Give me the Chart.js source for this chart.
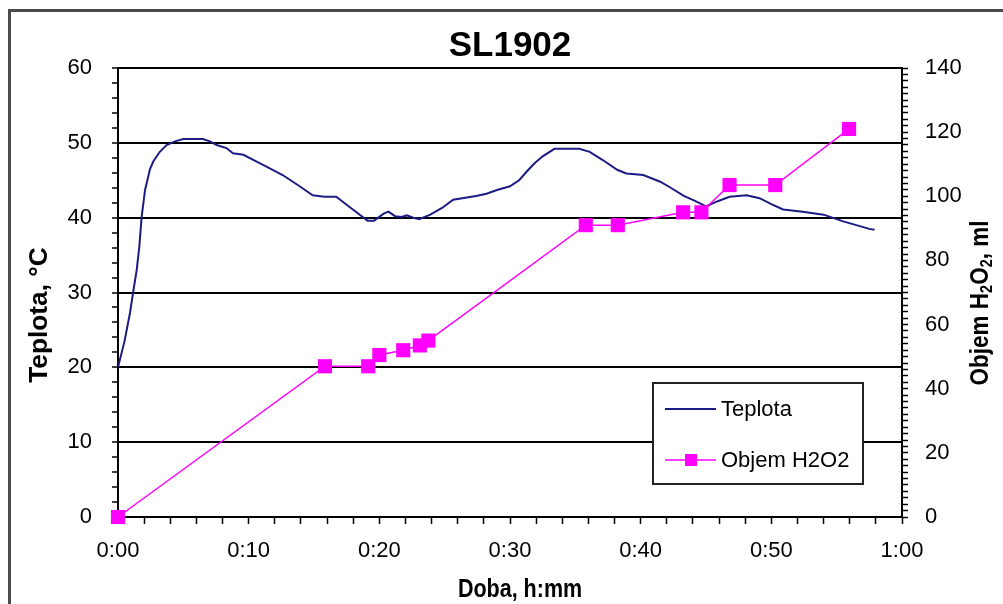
<!DOCTYPE html>
<html>
<head>
<meta charset="utf-8">
<title>SL1902</title>
<script src="https://cdn.jsdelivr.net/npm/chart.js@4/dist/chart.umd.min.js"></script>
<style>
  html, body { margin: 0; padding: 0; background: #fff; }
  #chart { display: block; }
</style>
</head>
<body>
<canvas id="chart" width="1003" height="604"></canvas>
<script>
// Teplota (temperature log), time in minutes
var tempMinutes = [0, 0.5, 0.92, 1.2, 1.43, 1.63, 1.81, 2.07, 2.45, 2.7, 3.2, 3.72, 4.36, 5.0, 6.5, 7.04,
    7.55, 8.3, 8.8, 9.6, 10.5, 11.4, 12.6, 13.9, 14.9, 15.8, 16.7, 17.6, 18.5, 19.1, 19.6, 20.3, 20.7,
    21.2, 21.7, 22.1, 22.6, 23.05, 23.9, 24.8, 25.65, 26.7, 27.4, 28.2, 29.0, 30.0, 30.7, 31.3, 31.9,
    32.5, 33.4, 35.3, 36.1, 37.1, 38.2, 38.9, 40.2, 41.5, 42.3, 43.3, 44.2, 45.0, 45.9, 46.8, 48.1,
    49.1, 50.0, 50.9, 52.4, 54.0, 55.5, 56.5, 57.5, 57.9];
var tempC = [20.0, 23.5, 27.3, 30.5, 33.0, 36.1, 40.1, 43.7, 46.5, 47.5, 48.8, 49.7, 50.2, 50.5, 50.5, 50.2,
    49.7, 49.3, 48.6, 48.4, 47.6, 46.8, 45.7, 44.2, 43.0, 42.8, 42.8, 41.6, 40.4, 39.6, 39.6, 40.5, 40.8,
    40.2, 40.1, 40.3, 40.0, 39.8, 40.4, 41.3, 42.4, 42.7, 42.9, 43.2, 43.7, 44.2, 45.0, 46.2, 47.3,
    48.2, 49.2, 49.2, 48.8, 47.7, 46.4, 45.9, 45.7, 44.8, 44.0, 42.9, 42.2, 41.5, 42.2, 42.8, 43.0,
    42.6, 41.8, 41.1, 40.8, 40.4, 39.5, 39.0, 38.5, 38.4];

// Objem H2O2 (dosed volume, ml)
var volMinutes = [0, 15.84, 19.15, 20.0, 21.83, 23.1, 23.75, 35.8, 38.25, 43.25, 44.65, 46.8, 50.3, 55.95];
var volMl = [0, 47, 47, 50.5, 52, 53.5, 55, 91, 91, 95, 95, 103.5, 103.5, 121];

var chartTitle = 'SL1902';
var seriesNames = ['Teplota', 'Objem H2O2'];
var xTitle = 'Doba, h:mm';
var yTitle = 'Teplota, °C';

var fontFamily = '"Liberation Sans", Arial, sans-serif';
var navy = '#1c1c84';
var magenta = '#ff00ff';

function toPoints(xs, ys) {
    return xs.map(function(x, i) { return { x: x, y: ys[i] }; });
}

function hhmm(minutes) {
    var h = Math.floor(minutes / 60);
    var m = Math.round(minutes % 60);
    return h + ':' + (m < 10 ? '0' + m : m);
}

// draws a run of [text, isSubscript] pieces centred on the origin, squeezed along the text
function drawRuns(ctx, parts, squeeze) {
    var bigFont = 'bold 25px ' + fontFamily;
    var subFont = 'bold 16px ' + fontFamily;
    var total = 0;
    parts.forEach(function(p) {
        ctx.font = p[1] ? subFont : bigFont;
        total += ctx.measureText(p[0]).width;
    });
    ctx.scale(squeeze, 1);
    ctx.textAlign = 'left';
    ctx.textBaseline = 'alphabetic';
    var px = -total / 2;
    parts.forEach(function(p) {
        ctx.font = p[1] ? subFont : bigFont;
        ctx.fillText(p[0], px, p[1] ? 13 : 9);
        px += ctx.measureText(p[0]).width;
    });
}

// white sheet, cell frame, axis titles and the boxed legend
var sheetDecor = {
    id: 'sheetDecor',
    beforeDraw: function(chart) {
        var ctx = chart.ctx;
        ctx.save();
        ctx.fillStyle = '#fff';
        ctx.fillRect(0, 0, chart.width, chart.height);
        ctx.strokeStyle = '#4a4a4a';
        ctx.lineWidth = 3;
        ctx.beginPath();
        ctx.moveTo(9.5, chart.height);
        ctx.lineTo(9.5, 10.5);
        ctx.lineTo(chart.width, 10.5);
        ctx.stroke();
        ctx.restore();
    },
    afterDraw: function(chart) {
        var ctx = chart.ctx;
        ctx.save();
        ctx.fillStyle = '#000';

        // x title
        ctx.save();
        ctx.translate(520, 588);
        drawRuns(ctx, [[xTitle, false]], 0.86);
        ctx.restore();

        // left title
        ctx.save();
        ctx.translate(38, 315);
        ctx.rotate(-Math.PI / 2);
        drawRuns(ctx, [[yTitle, false]], 1.05);
        ctx.restore();

        // right title with subscripts
        ctx.save();
        ctx.translate(979, 303);
        ctx.rotate(-Math.PI / 2);
        drawRuns(ctx, [['Objem H', false], ['2', true], ['O', false], ['2', true], [', ml', false]], 0.9);
        ctx.restore();

        // legend box inside the plot
        var box = { x: 653, y: 383, w: 210, h: 101 };
        ctx.fillStyle = '#fff';
        ctx.fillRect(box.x, box.y, box.w, box.h);
        ctx.strokeStyle = '#222';
        ctx.lineWidth = 2;
        ctx.strokeRect(box.x, box.y, box.w, box.h);
        ctx.font = '22px ' + fontFamily;
        ctx.textAlign = 'left';
        ctx.textBaseline = 'middle';
        chart.data.datasets.forEach(function(ds, i) {
            var ly = box.y + 26 + i * 51;
            ctx.strokeStyle = ds.borderColor;
            ctx.lineWidth = ds.borderWidth;
            ctx.beginPath();
            ctx.moveTo(box.x + 12, ly);
            ctx.lineTo(box.x + 63, ly);
            ctx.stroke();
            if (ds.pointRadius > 0) {
                ctx.fillStyle = ds.pointBackgroundColor;
                ctx.fillRect(box.x + 32, ly - 6, 12, 12);
            }
            ctx.fillStyle = '#000';
            ctx.fillText(ds.label, box.x + 68, ly + 1);
        });
        ctx.restore();
    }
};

var tickFont = { family: fontFamily, size: 22 };

var ctx = document.getElementById('chart').getContext('2d');
var chart = new Chart(ctx, {
    type: 'line',
    data: {
        datasets: [
            {
                label: seriesNames[0],
                data: toPoints(tempMinutes, tempC),
                yAxisID: 'y',
                borderColor: navy,
                borderWidth: 2,
                pointRadius: 0,
                tension: 0,
                order: 1
            },
            {
                label: seriesNames[1],
                data: toPoints(volMinutes, volMl),
                yAxisID: 'y2',
                borderColor: magenta,
                borderWidth: 1.5,
                pointStyle: 'rect',
                pointRadius: 10,
                pointBackgroundColor: magenta,
                pointBorderColor: magenta,
                pointBorderWidth: 0,
                tension: 0,
                clip: false,
                order: 0
            }
        ]
    },
    options: {
        responsive: false,
        animation: false,
        devicePixelRatio: 1,
        layout: { padding: 0 },
        plugins: {
            legend: { display: false },
            tooltip: { enabled: false },
            title: {
                display: true,
                text: chartTitle,
                fullSize: false,
                color: '#000',
                font: { family: fontFamily, size: 35, weight: 'bold', lineHeight: 1 },
                padding: { top: 29, bottom: 4 }
            }
        },
        scales: {
            x: {
                type: 'linear',
                min: 0,
                max: 60,
                afterFit: function(scale) { scale.height = 87; },
                border: { display: true, color: '#000', width: 2 },
                grid: { drawOnChartArea: false, tickColor: '#000', tickLength: 7, tickWidth: 1.5 },
                ticks: {
                    stepSize: 2,
                    autoSkip: false,
                    maxRotation: 0,
                    padding: 14,
                    color: '#000',
                    font: tickFont,
                    callback: function(v) { return v % 10 === 0 ? hhmm(v) : ''; }
                }
            },
            y: {
                position: 'left',
                min: 0,
                max: 60,
                afterFit: function(scale) { scale.width = 118; },
                border: { display: true, color: '#000', width: 2 },
                grid: {
                    color: function(c) { return c.tick && c.tick.value % 10 === 0 ? '#000' : 'rgba(0,0,0,0)'; },
                    lineWidth: 2,
                    tickColor: '#000',
                    tickLength: 6,
                    tickWidth: 1.5
                },
                ticks: {
                    stepSize: 2,
                    autoSkip: false,
                    padding: 20,
                    color: '#000',
                    font: tickFont,
                    callback: function(v) { return v % 10 === 0 ? v : ''; }
                }
            },
            y2: {
                position: 'right',
                min: 0,
                max: 140,
                afterFit: function(scale) { scale.width = 101; },
                border: { display: true, color: '#000', width: 2 },
                grid: { drawOnChartArea: false, tickColor: '#000', tickLength: 6, tickWidth: 1.5 },
                ticks: {
                    stepSize: 2,
                    autoSkip: false,
                    padding: 17,
                    color: '#000',
                    font: tickFont,
                    callback: function(v) { return v % 20 === 0 ? v : ''; }
                }
            }
        }
    },
    plugins: [sheetDecor]
});
</script>
</body>
</html>
